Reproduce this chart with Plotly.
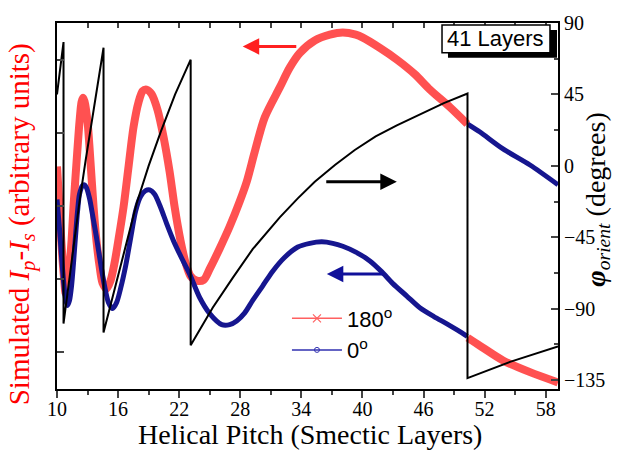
import plotly.graph_objects as go

# ---------------- data ----------------
# Simulated Ip - Is for 180 deg (red, crosses)
red_p = [10.00, 10.15, 10.34, 10.54, 10.74, 10.84, 11.03, 11.23, 11.43, 11.62, 11.92, 12.21, 12.41, 12.56,
         12.70, 13.00, 13.29, 13.59, 13.88, 14.18, 14.47, 14.87, 15.26, 15.65, 16.05, 16.54, 17.03, 17.52,
         18.01, 18.41, 18.80, 19.29, 19.88, 20.47, 21.06, 21.55, 22.14, 22.64, 23.13, 23.72, 24.41, 25.00,
         25.98, 26.96, 27.94, 28.63, 29.42, 30.40, 31.88, 32.86, 33.85, 35.32, 36.80, 38.07, 39.35, 40.04,
         41.71, 43.38, 45.15, 46.63, 48.59, 50.30, None, 50.34, 51.55, 53.81, 56.46, 59.21]
red_v = [2.54, 2.20, 1.72, 1.27, 0.94, 0.81, 0.92, 1.18, 1.52, 1.99, 2.60, 3.15, 3.42, 3.48,
         3.43, 3.15, 2.60, 1.99, 1.52, 1.18, 0.95, 0.87, 0.98, 1.22, 1.55, 1.99, 2.54, 3.08,
         3.42, 3.57, 3.59, 3.53, 3.31, 2.94, 2.47, 1.99, 1.52, 1.22, 1.04, 0.98, 0.99, 1.14,
         1.42, 1.72, 2.06, 2.33, 2.74, 3.21, 3.62, 3.89, 4.09, 4.26, 4.34, 4.37, 4.34, 4.30,
         4.16, 4.00, 3.80, 3.59, 3.35, 3.12, None, 0.20, 0.09, -0.11, -0.27, -0.41]

# Simulated Ip - Is for 0 deg (blue, circles)
blue_p = [10.00, 10.25, 10.44, 10.64, 10.84, 11.03, 11.23, 11.43, 11.62, 11.82, 12.02, 12.21, 12.51, 12.70,
          12.90, 13.20, 13.49, 13.88, 14.28, 14.67, 15.06, 15.46, 15.85, 16.24, 16.74, 17.23, 17.72, 18.21,
          18.70, 19.10, 19.59, 20.18, 20.77, 21.46, 22.24, 23.03, 24.01, 25.00, 26.18, 26.96, 27.65, 28.44,
          29.22, 30.21, 31.19, 32.37, 33.65, 34.83, 36.01, 37.09, 38.07, 39.35, 40.73, 41.91, 42.99, 44.36,
          45.64, 47.02, 48.30, 49.38, 50.30, None, 50.34, 51.55, 53.81, 56.46, 59.21]
blue_v = [2.09, 1.68, 1.32, 0.98, 0.73, 0.64, 0.71, 0.91, 1.22, 1.59, 1.93, 2.16, 2.28, 2.29,
          2.25, 2.10, 1.88, 1.57, 1.22, 0.91, 0.68, 0.60, 0.68, 0.87, 1.18, 1.56, 1.93, 2.13,
          2.21, 2.22, 2.16, 1.98, 1.76, 1.52, 1.29, 1.07, 0.75, 0.53, 0.38, 0.38, 0.43, 0.54,
          0.71, 0.91, 1.11, 1.30, 1.44, 1.49, 1.51, 1.49, 1.45, 1.37, 1.25, 1.10, 0.94, 0.77,
          0.61, 0.49, 0.39, 0.30, 0.22, None, 3.12, 3.01, 2.78, 2.56, 2.29]

# phi_orient (degrees), right axis
phi_p = [10.00, 10.64, 10.64, 11.40, 12.21, 12.80, 13.39, 14.00, 14.57, 14.57, 15.40, 16.24, 17.82, 19.00,
         20.18, 21.60, 23.13, 23.13, 25.29, 27.26, 29.22, 31.88, 33.65, 35.32, 37.30, 39.25, 41.30, 43.38,
         45.64, 48.00, 50.32, 50.32, 54.50, 59.21]
phi_deg = [45.0, 78.0, -99.4, -61.0, -22.5, 3.0, 27.5, 51.0, 74.4, -105.0, -84.0, -63.1, -23.75, 0.0,
           21.25, 45.0, 66.9, -113.0, -89.4, -70.6, -52.5, -32.5, -20.5, -10.0, 0.5, 10.0, 18.5, 25.5,
           32.5, 39.5, 45.6, -133.75, -123.5, -113.75]

x_ticks = [10, 16, 22, 28, 34, 40, 46, 52, 58]
phi_ticks = [90, 45, 0, -45, -90, -135]
legend_names = ["180<sup>o</sup>", "0<sup>o</sup>"]

SERIF = "Liberation Serif"
SANS = "Liberation Sans"
RED = "rgba(255,20,20,0.74)"
BLUE = "#16168f"

fig = go.Figure()
fig.add_trace(go.Scatter(x=red_p, y=red_v, mode="lines", line=dict(color=RED, width=8, shape="spline", smoothing=0.8),
                         showlegend=False, xaxis="x", yaxis="y"))
fig.add_trace(go.Scatter(x=blue_p, y=blue_v, mode="lines", line=dict(color=BLUE, width=5, shape="spline", smoothing=0.8),
                         showlegend=False, xaxis="x", yaxis="y"))
# legend entries
fig.add_trace(go.Scatter(x=[None], y=[None], mode="lines+markers", name=legend_names[0], legendgroup="a",
                         line=dict(color="#ff6060", width=1.5),
                         marker=dict(symbol="x-thin-open", size=8, line=dict(color="#ff6060", width=1.2))))
fig.add_trace(go.Scatter(x=[None], y=[None], mode="lines+markers", name=legend_names[1], legendgroup="b",
                         line=dict(color="#3030b0", width=1.5),
                         marker=dict(symbol="circle-open", size=5, color="#3030b0", line=dict(width=1))))
# phi
fig.add_trace(go.Scatter(x=phi_p, y=phi_deg, mode="lines", line=dict(color="black", width=2),
                         showlegend=False, xaxis="x", yaxis="y2"))
# dummy for top axis
fig.add_trace(go.Scatter(x=[None], y=[None], xaxis="x2", yaxis="y", showlegend=False, hoverinfo="skip"))

fig.update_layout(
    width=619, height=460,
    margin=dict(l=57, r=61, t=20, b=71),
    paper_bgcolor="white", plot_bgcolor="white",
    xaxis=dict(range=[10, 59.21], tickvals=x_ticks, ticks="outside", ticklen=7, tickwidth=2,
               minor=dict(dtick=3, tick0=10, ticks="outside", ticklen=4, tickwidth=1.5, showgrid=False),
               showline=True, linewidth=2, linecolor="black", showgrid=False, zeroline=False,
               ticklabelstandoff=-6,
               tickfont=dict(family=SERIF, size=20, color="black")),
    xaxis2=dict(range=[10, 59.21], overlaying="x", side="top", anchor="y", dtick=3, tick0=10,
                ticks="inside", ticklen=5, tickwidth=1.5, showticklabels=False, showline=True,
                linewidth=2, linecolor="black", showgrid=False, zeroline=False),
    yaxis=dict(range=[-0.5, 4.5], dtick=1, tick0=0, ticks="inside", ticklen=7, tickwidth=2,
               showticklabels=False, showline=True, linewidth=2, linecolor="black",
               showgrid=False, zeroline=False),
    yaxis2=dict(range=[-140.625, 90], overlaying="y", side="right", tickvals=phi_ticks,
                ticks="inside", ticklen=7, tickwidth=2,
                minor=dict(dtick=22.5, tick0=0, ticks="inside", ticklen=4, tickwidth=1.5, showgrid=False),
                showline=True, linewidth=2, linecolor="black", showgrid=False, zeroline=False,
                tickfont=dict(family=SERIF, size=20, color="black")),
    legend=dict(x=0.459, y=0.25, xanchor="left", yanchor="top", bgcolor="rgba(0,0,0,0)",
                font=dict(family=SANS, size=22, color="black"), itemwidth=50, tracegroupgap=0,
                traceorder="grouped"),
    shapes=[
        dict(type="rect", xref="paper", yref="paper", x0=0.7804, x1=0.998, y0=0.9051, y1=0.981,
             fillcolor="black", line=dict(width=0), layer="above"),
        dict(type="rect", xref="paper", yref="paper", x0=0.7685, x1=0.984, y0=0.9187, y1=0.9946,
             fillcolor="white", line=dict(color="black", width=1.5), layer="above"),
    ],
    annotations=[
        dict(text="41 Layers", xref="paper", yref="paper", x=0.8762, y=0.9566, showarrow=False,
             font=dict(family=SANS, size=22, color="black"), xanchor="center", yanchor="middle"),
        dict(text="Simulated <i>I</i><sub><i>p</i></sub>-<i>I</i><sub><i>s</i></sub> (arbitrary units)",
             xref="paper", yref="paper", x=-0.0719, y=0.45, textangle=-90, showarrow=False,
             font=dict(family=SERIF, size=29, color="#ff0000"), xanchor="center", yanchor="middle"),
        dict(text="<b><i>φ</i></b><sub><i>orient</i></sub> (degrees)",
             xref="paper", yref="paper", x=1.078, y=0.5176, textangle=-90, showarrow=False,
             font=dict(family=SERIF, size=28, color="black"), xanchor="center", yanchor="middle"),
        dict(text="Helical Pitch (Smectic Layers)", xref="paper", yref="paper", x=0.505, y=-0.125,
             showarrow=False, font=dict(family=SERIF, size=28, color="black"),
             xanchor="center", yanchor="middle"),
        # arrows
        dict(x=28.24, y=4.18, ax=33.65, ay=4.18, xref="x", yref="y", axref="x", ayref="y", text="",
             showarrow=True, arrowhead=2, arrowsize=1.1, arrowwidth=3, arrowcolor="#ff2020"),
        dict(x=43.38, y=2.33, ax=36.30, ay=2.33, xref="x", yref="y", axref="x", ayref="y", text="",
             showarrow=True, arrowhead=2, arrowsize=1.1, arrowwidth=3, arrowcolor="black"),
        dict(x=36.50, y=1.07, ax=42.20, ay=1.07, xref="x", yref="y", axref="x", ayref="y", text="",
             showarrow=True, arrowhead=2, arrowsize=1.1, arrowwidth=3, arrowcolor="#10109a"),
    ],
)

fig.write_html("out.html", config={"displayModeBar": False},
               post_script="document.body.style.margin='0';document.body.style.overflow='hidden';")
